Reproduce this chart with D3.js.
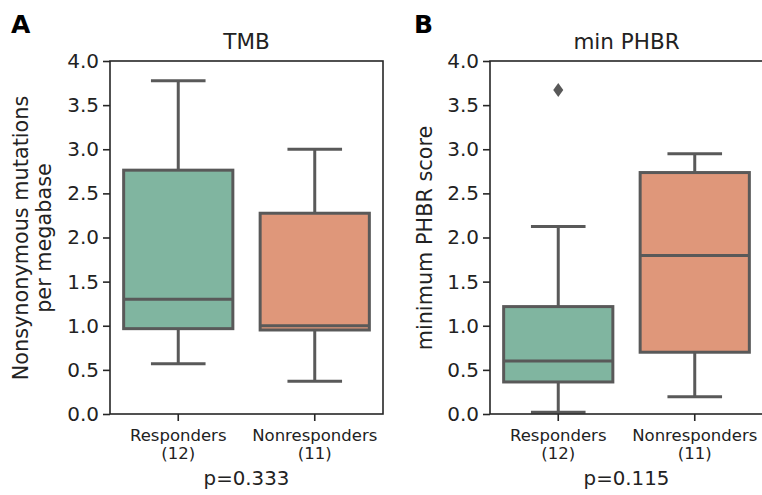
<!DOCTYPE html>
<html>
<head>
<meta charset="utf-8">
<script src="https://cdn.jsdelivr.net/npm/d3@7"></script>
<style>
  body { margin: 0; background: #fff; }
  svg { display: block; font-family: "DejaVu Sans", sans-serif; }
</style>
</head>
<body>
<svg id="chart" width="762" height="495"></svg>
<script>
// groups on the x axis and patient counts
var groups = ["Responders", "Nonresponders"];
var groupN = [12, 11];
var yTicks = [0, 0.5, 1, 1.5, 2, 2.5, 3, 3.5, 4];

// TMB box stats (per group)
var tmbLow = [0.57, 0.37];
var tmbQ1 = [0.967, 0.952];
var tmbMed = [1.30, 1.0];
var tmbQ3 = [2.763, 2.275];
var tmbHigh = [3.775, 3.0];
var tmbOutliers = [];

// min PHBR box stats (per group)
var phbrLow = [0.02, 0.196];
var phbrQ1 = [0.363, 0.70];
var phbrMed = [0.60, 1.795];
var phbrQ3 = [1.217, 2.736];
var phbrHigh = [2.124, 2.95];
var phbrOutliers = [{group: "Responders", value: 3.67}];

var boxColors = ["#80b5a0", "#df977a"];
var lineColor = "#595959";
var spineColor = "#262626";

var svg = d3.select("#chart");
svg.append("rect").attr("width", 762).attr("height", 495).attr("fill", "#fff");

function buildStats(low, q1, med, q3, high){
    return groups.map(function(g, i){
        return {group: g, idx: i, low: low[i], q1: q1[i], med: med[i], q3: q3[i], high: high[i]};
    });
}

function drawPanel(opt){
    var left = opt.left, right = opt.left + 273, top = 61, bottom = 414;

    var x = d3.scaleBand().domain(groups).range([left, right]).padding(0);
    var y = d3.scaleLinear().domain([0, 4]).range([bottom, top]);

    var g = svg.append("g");

    // panel letter and title
    svg.append("text").attr("x", opt.letterX).attr("y", 33)
        .attr("font-size", 25).attr("font-weight", "bold").attr("fill", "#000")
        .text(opt.letter);
    svg.append("text").attr("x", (left + right) / 2).attr("y", 49)
        .attr("text-anchor", "middle").attr("font-size", 21.5).attr("fill", "#222")
        .text(opt.title);

    // boxes
    var bw = x.bandwidth() * 0.8;
    var boxes = g.selectAll("g.box").data(opt.stats).enter().append("g").attr("class", "box");

    boxes.append("line")
        .attr("x1", function(d){ return x(d.group) + x.bandwidth() / 2; })
        .attr("x2", function(d){ return x(d.group) + x.bandwidth() / 2; })
        .attr("y1", function(d){ return y(d.high); })
        .attr("y2", function(d){ return y(d.q3); })
        .attr("stroke", lineColor).attr("stroke-width", 3);
    boxes.append("line")
        .attr("x1", function(d){ return x(d.group) + x.bandwidth() / 2; })
        .attr("x2", function(d){ return x(d.group) + x.bandwidth() / 2; })
        .attr("y1", function(d){ return y(d.q1); })
        .attr("y2", function(d){ return y(d.low); })
        .attr("stroke", lineColor).attr("stroke-width", 3);

    ["high", "low"].forEach(function(k){
        boxes.append("line")
            .attr("x1", function(d){ return x(d.group) + x.bandwidth() / 2 - bw / 4; })
            .attr("x2", function(d){ return x(d.group) + x.bandwidth() / 2 + bw / 4; })
            .attr("y1", function(d){ return y(d[k]); })
            .attr("y2", function(d){ return y(d[k]); })
            .attr("stroke", lineColor).attr("stroke-width", 3);
    });

    boxes.append("rect")
        .attr("x", function(d){ return x(d.group) + (x.bandwidth() - bw) / 2; })
        .attr("width", bw)
        .attr("y", function(d){ return y(d.q3); })
        .attr("height", function(d){ return y(d.q1) - y(d.q3); })
        .attr("fill", function(d){ return boxColors[d.idx]; })
        .attr("stroke", lineColor).attr("stroke-width", 3);

    boxes.append("line")
        .attr("x1", function(d){ return x(d.group) + (x.bandwidth() - bw) / 2; })
        .attr("x2", function(d){ return x(d.group) + (x.bandwidth() + bw) / 2; })
        .attr("y1", function(d){ return y(d.med); })
        .attr("y2", function(d){ return y(d.med); })
        .attr("stroke", lineColor).attr("stroke-width", 3);

    // fliers
    g.selectAll("path.flier").data(opt.outliers).enter().append("path")
        .attr("class", "flier")
        .attr("transform", function(d){
            return "translate(" + (x(d.group) + x.bandwidth() / 2) + "," + y(d.value) + ")";
        })
        .attr("d", "M0,-7L5,0L0,7L-5,0Z")
        .attr("fill", lineColor);

    // y axis
    var yAxis = g.append("g").attr("transform", "translate(" + left + ",0)")
        .call(d3.axisLeft(y).tickValues(yTicks).tickFormat(d3.format(".1f"))
            .tickSize(7).tickSizeOuter(0).tickPadding(4));
    yAxis.select(".domain").remove();
    yAxis.selectAll("line").attr("stroke", spineColor).attr("stroke-width", 1.6);
    yAxis.selectAll("text").attr("font-size", 20).attr("fill", "#222")
        .attr("font-family", "DejaVu Sans");

    // x axis
    var xAxis = g.append("g").attr("transform", "translate(0," + bottom + ")")
        .call(d3.axisBottom(x).tickSize(7).tickSizeOuter(0).tickFormat(""));
    xAxis.select(".domain").remove();
    xAxis.selectAll("line").attr("stroke", spineColor).attr("stroke-width", 1.6);

    // two-line category labels: name, then (n)
    g.selectAll("text.xlab").data(groups).enter().append("text")
        .attr("class", "xlab")
        .attr("x", function(d){ return x(d) + x.bandwidth() / 2; })
        .attr("y", 441)
        .attr("text-anchor", "middle").attr("font-size", 16.5).attr("fill", "#222")
        .text(function(d){ return d; });
    g.selectAll("text.xn").data(groups).enter().append("text")
        .attr("class", "xn")
        .attr("x", function(d){ return x(d) + x.bandwidth() / 2; })
        .attr("y", 458.5)
        .attr("text-anchor", "middle").attr("font-size", 16.5).attr("fill", "#222")
        .text(function(d, i){ return "(" + groupN[i] + ")"; });

    svg.append("text").attr("x", (left + right) / 2).attr("y", 485)
        .attr("text-anchor", "middle").attr("font-size", 19.8).attr("fill", "#222")
        .text(opt.pValue);

    // y label (possibly two lines)
    var yl = svg.append("text")
        .attr("transform", "rotate(-90)")
        .attr("text-anchor", "middle").attr("font-size", 20.8).attr("fill", "#222");
    opt.yLabel.forEach(function(line, i){
        yl.append("tspan").attr("x", -238).attr("y", opt.yLabelX[i]).text(line);
    });

    // spines
    g.append("rect")
        .attr("x", left).attr("y", top)
        .attr("width", right - left).attr("height", bottom - top)
        .attr("fill", "none").attr("stroke", spineColor).attr("stroke-width", 1.6);
}

drawPanel({
    left: 110, letter: "A", letterX: 11, title: "TMB",
    stats: buildStats(tmbLow, tmbQ1, tmbMed, tmbQ3, tmbHigh),
    outliers: tmbOutliers,
    pValue: "p=0.333",
    yLabel: ["Nonsynonymous mutations", "per megabase"],
    yLabelX: [28, 51]
});

drawPanel({
    left: 490, letter: "B", letterX: 414, title: "min PHBR",
    stats: buildStats(phbrLow, phbrQ1, phbrMed, phbrQ3, phbrHigh),
    outliers: phbrOutliers,
    pValue: "p=0.115",
    yLabel: ["minimum PHBR score"],
    yLabelX: [432]
});
</script>
</body>
</html>
